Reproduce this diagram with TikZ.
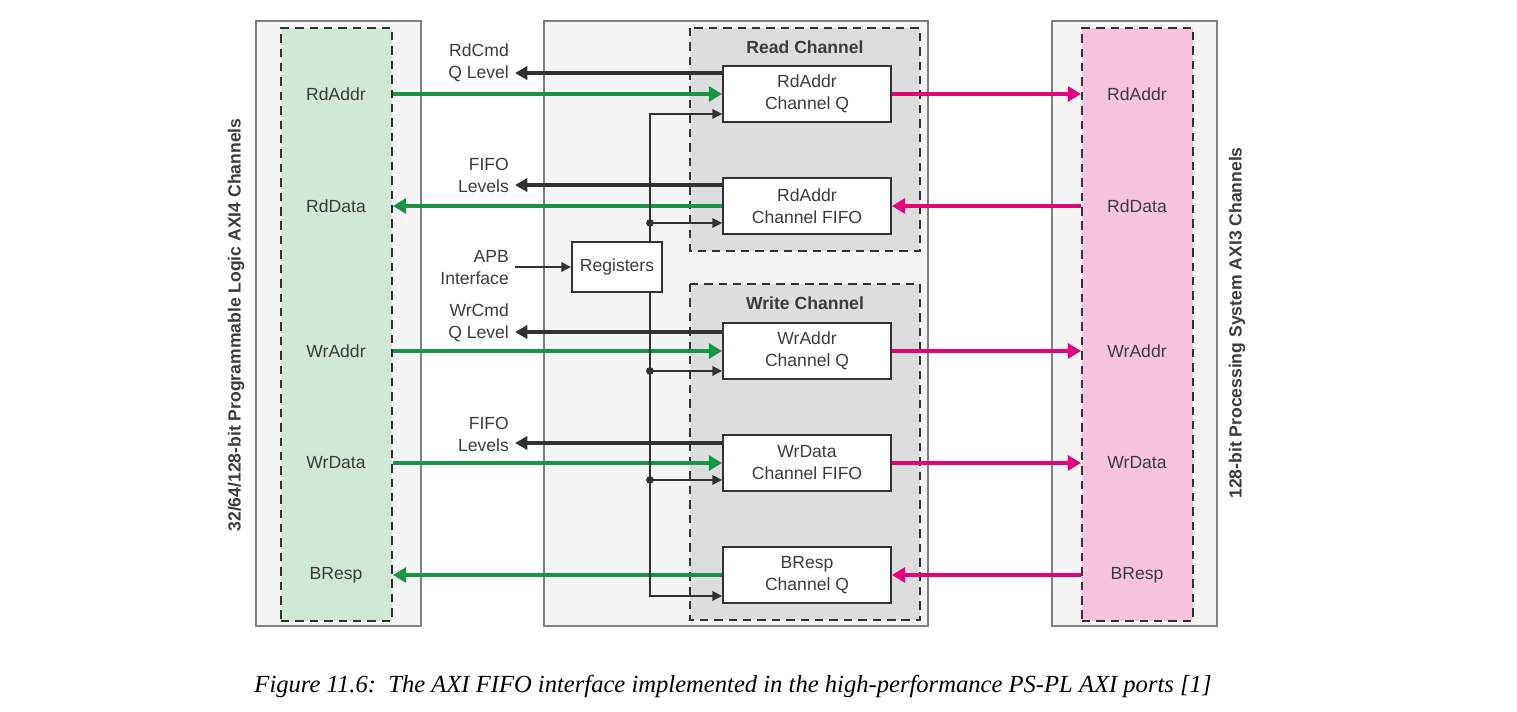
\documentclass[tikz,border=0pt]{standalone}
\usepackage{fontspec}
\setmainfont{Liberation Sans}
\newfontfamily\capfont{Liberation Serif}
\usetikzlibrary{arrows.meta,positioning}

\definecolor{plgreen}{RGB}{208,232,212}
\definecolor{psrose}{RGB}{246,196,222}
\definecolor{axigreen}{RGB}{22,150,66}
\definecolor{axipink}{RGB}{230,0,126}
\definecolor{panelgray}{RGB}{245,245,245}
\definecolor{framegray}{RGB}{128,128,128}
\definecolor{changray}{RGB}{221,221,221}
\definecolor{darkline}{RGB}{50,50,50}
\definecolor{textgray}{RGB}{60,60,60}
\newcommand{\pix}{0.02cm}

\begin{document}
\begin{tikzpicture}[x=0.02cm, y=-0.02cm, font=\fontsize{10}{12.5}\selectfont, text=textgray]
  % Define styles
  \tikzstyle{panel} = [draw=framegray, fill=panelgray, line width=0.8pt]
  \tikzstyle{chan} = [draw=darkline, fill=changray, dash pattern=on 4.8pt off 3.4pt, line width=1.1pt]
  \tikzstyle{column} = [draw=darkline, dash pattern=on 4.8pt off 3.4pt, line width=1.1pt, minimum width=111*\pix, minimum height=593*\pix, inner sep=0pt]
  \tikzstyle{chbox} = [rectangle, draw=darkline, fill=white, line width=1.1pt, text centered, align=center, minimum width=168*\pix, minimum height=56*\pix]
  \tikzstyle{lbl} = [align=right, anchor=east]
  \tikzstyle{grnline} = [draw=axigreen, line width=1.9pt, -{Triangle[length=7.5pt,width=8.5pt]}]
  \tikzstyle{pnkline} = [draw=axipink, line width=1.9pt, -{Triangle[length=7.5pt,width=8.5pt]}]
  \tikzstyle{lvlline} = [draw=darkline, line width=1.9pt, -{Triangle[length=7pt,width=7.5pt]}]
  \tikzstyle{ctlline} = [draw=darkline, line width=0.8pt, -{Triangle[length=5.5pt,width=5.5pt]}]

  \fill[white] (0,0) rectangle (1517,712);
  \useasboundingbox (0,0) rectangle (1517,712);

  % Panels and channel groups
  \draw[panel] (256,21) rectangle (421,626);
  \draw[panel] (544,21) rectangle (928,626);
  \draw[panel] (1052,21) rectangle (1217,626);
  \draw[chan] (690,28) rectangle (920,251);
  \draw[chan] (690,284) rectangle (920,620);
  \node[column, fill=plgreen] (plcol) at (336.5,324.5) {};
  \node[column, fill=psrose] (pscol) at (1137.5,324.5) {};

  % Place nodes
  \node[rotate=90, font=\bfseries] (pllabel) at (236,325) {32/64/128-bit Programmable Logic AXI4 Channels};
  \node[rotate=90, font=\bfseries] (pslabel) at (1237,323) {128-bit Processing System AXI3 Channels};
  \foreach \sig/\y in {RdAddr/94, RdData/206, WrAddr/351, WrData/463, BResp/575} {
    \node (pl\sig) at (336,\y) {\sig};
    \node (ps\sig) at (1137,\y) {\sig};
  }
  \node[font=\bfseries] (rdtitle) at (805,47) {Read Channel};
  \node[font=\bfseries] (wrtitle) at (805,303) {Write Channel};
  \node[chbox] (rdq) at (807,94) {RdAddr\\Channel Q};
  \node[chbox] (rdf) at (807,206) {RdAddr\\Channel FIFO};
  \node[chbox] (wrq) at (807,351) {WrAddr\\Channel Q};
  \node[chbox] (wdf) at (807,463) {WrData\\Channel FIFO};
  \node[chbox] (bq) at (807,575) {BResp\\Channel Q};
  \node[chbox, minimum width=90*\pix, minimum height=50*\pix] (regs) at (617,267) {Registers};
  \node[lbl] (apb) at (515,268) {APB\\Interface};
  \node[lbl] (rdqlvl) at (515,63) {RdCmd\\Q Level};
  \node[lbl] (rdflvl) at (515,175) {FIFO\\Levels};
  \node[lbl] (wrqlvl) at (515,323) {WrCmd\\Q Level};
  \node[lbl] (wdflvl) at (515,434) {FIFO\\Levels};
  \node[font=\capfont\itshape\fontsize{14}{17}\selectfont, text=black] (caption) at (733,686)
    {Figure 11.6:\ \ The AXI FIFO interface implemented in the high-performance PS-PL AXI ports [1]};

  % Data paths
  \draw[grnline] (plcol.east |- rdq) -- (rdq);
  \draw[grnline] (rdf) -- (plcol.east |- rdf);
  \draw[grnline] (plcol.east |- wrq) -- (wrq);
  \draw[grnline] (plcol.east |- wdf) -- (wdf);
  \draw[grnline] (bq) -- (plcol.east |- bq);
  \draw[pnkline] (rdq) -- (pscol.west |- rdq);
  \draw[pnkline] (pscol.west |- rdf) -- (rdf);
  \draw[pnkline] (wrq) -- (pscol.west |- wrq);
  \draw[pnkline] (wdf) -- (pscol.west |- wdf);
  \draw[pnkline] (pscol.west |- bq) -- (bq);

  % Level outputs
  \draw[lvlline] ([yshift=-8*\pix]rdq.north west) -- ([yshift=-8*\pix]rdqlvl.east |- rdq.north west);
  \draw[lvlline] ([yshift=-8*\pix]rdf.north west) -- ([yshift=-8*\pix]rdflvl.east |- rdf.north west);
  \draw[lvlline] ([yshift=-10*\pix]wrq.north west) -- ([yshift=-10*\pix]wrqlvl.east |- wrq.north west);
  \draw[lvlline] ([yshift=-9*\pix]wdf.north west) -- ([yshift=-9*\pix]wdflvl.east |- wdf.north west);

  % Register control bus
  \draw[ctlline] (apb.east |- regs.west) -- (regs.west);
  \coordinate (busN) at ([xshift=-13*\pix]regs.north east);
  \coordinate (busS) at ([xshift=-13*\pix]regs.south east);
  \draw[ctlline] (busN) |- ([yshift=9*\pix]rdq.south west);
  \draw[ctlline] (busS) |- ([yshift=8*\pix]bq.south west);
  \foreach \b/\d in {rdf/12, wrq/9, wdf/12} {
    \fill[darkline] ([yshift=\d*\pix]busN |- \b.south west) circle (2.2pt);
    \draw[ctlline] ([yshift=\d*\pix]busN |- \b.south west) -- ([yshift=\d*\pix]\b.south west);
  }
\end{tikzpicture}
\end{document}
